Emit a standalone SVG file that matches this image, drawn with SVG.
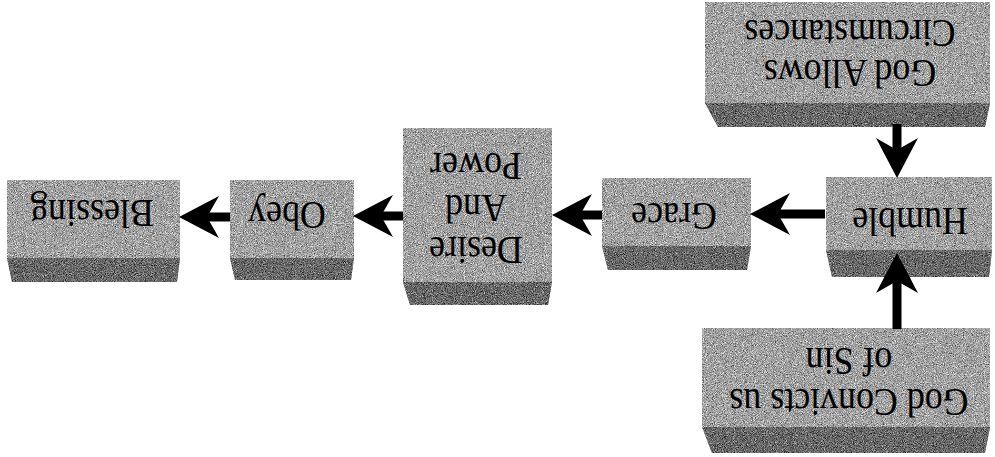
<svg xmlns="http://www.w3.org/2000/svg" width="995" height="457" viewBox="0 0 995 457">
<style>
.face{fill:#a3a3a3}
.band{fill:#6a6a6a}
.box{filter:url(#grain)}
.lbl{font-family:"Liberation Serif","Times New Roman",serif;font-size:39px;fill:#000;text-anchor:middle}
.conn{stroke:#000;stroke-width:9;fill:none;marker-end:url(#ah)}
</style>
<defs>
<filter id="grain" x="0" y="0" width="1" height="1" color-interpolation-filters="sRGB">
<feTurbulence type="fractalNoise" baseFrequency="1.1" numOctaves="2" seed="7" result="n"/>
<feColorMatrix in="n" type="matrix" values="0.33 0.33 0.33 0 0 0.33 0.33 0.33 0 0 0.33 0.33 0.33 0 0 0 0 0 0 1" result="g"/>
<feComposite in="SourceGraphic" in2="g" operator="arithmetic" k1="0" k2="1" k3="1.8" k4="-0.9" result="m"/>
<feComposite in="m" in2="SourceGraphic" operator="in"/>
</filter>
<marker id="ah" markerUnits="userSpaceOnUse" viewBox="0 0 40 42" markerWidth="40" markerHeight="42" refX="19" refY="21" orient="auto">
<path d="M0,0 L40,21 L0,42 L12,21 Z" fill="#000"/>
</marker>
</defs>

<g id="allows">
<g class="box"><rect class="face" x="705" y="2" width="285" height="101"/><polygon class="band" points="705,103 990,103 985,127 718,127"/></g>
<text class="lbl" transform="translate(850,60) rotate(180) scale(0.92,1)"><tspan x="0" y="0">God Allows</tspan><tspan x="0" y="40">Circumstances</tspan></text>
</g>

<g id="humble">
<g class="box"><rect class="face" x="826" y="177" width="166" height="73"/><polygon class="band" points="826,250 992,250 989,277 832,277"/></g>
<text class="lbl" transform="translate(910,208) rotate(180) scale(0.92,1)">Humble</text>
</g>

<g id="convicts">
<g class="box"><rect class="face" x="702" y="328" width="288" height="99"/><polygon class="band" points="702,427 990,427 985,453 712,453"/></g>
<text class="lbl" transform="translate(849,389) rotate(180) scale(0.92,1)"><tspan x="0" y="0">God Convicts us</tspan><tspan x="0" y="41">of Sin</tspan></text>
</g>

<g id="grace">
<g class="box"><rect class="face" x="602" y="178" width="149" height="68"/><polygon class="band" points="602,246 751,246 747,270 608,270"/></g>
<text class="lbl" transform="translate(674,203) rotate(180) scale(0.92,1)">Grace</text>
</g>

<g id="desire">
<g class="box"><rect class="face" x="403" y="128" width="149" height="154"/><polygon class="band" points="403,282 552,282 548,305 410,305"/></g>
<text class="lbl" transform="translate(476,237) rotate(180) scale(0.92,1)"><tspan x="0" y="0">Desire</tspan><tspan x="0" y="42">And</tspan><tspan x="0" y="84">Power</tspan></text>
</g>

<g id="obey">
<g class="box"><rect class="face" x="230" y="180" width="124" height="78"/><polygon class="band" points="230,258 354,258 351,280 235,280"/></g>
<text class="lbl" transform="translate(287,202) rotate(180) scale(0.92,1)">Obey</text>
</g>

<g id="blessing">
<g class="box"><rect class="face" x="7" y="180" width="173" height="78"/><polygon class="band" points="7,258 180,258 177,282 12,282"/></g>
<text class="lbl" transform="translate(92,200) rotate(180) scale(0.92,1)">Blessing</text>
</g>

<g id="connectors">
<line class="conn" x1="825" y1="214" x2="771" y2="214"/>
<line class="conn" x1="602" y1="215" x2="573" y2="215"/>
<line class="conn" x1="403" y1="216" x2="374" y2="216"/>
<line class="conn" x1="230" y1="217" x2="200" y2="217"/>
<line class="conn" x1="897" y1="124" x2="897" y2="157"/>
<line class="conn" x1="897" y1="329" x2="897" y2="274"/>
</g>
</svg>
